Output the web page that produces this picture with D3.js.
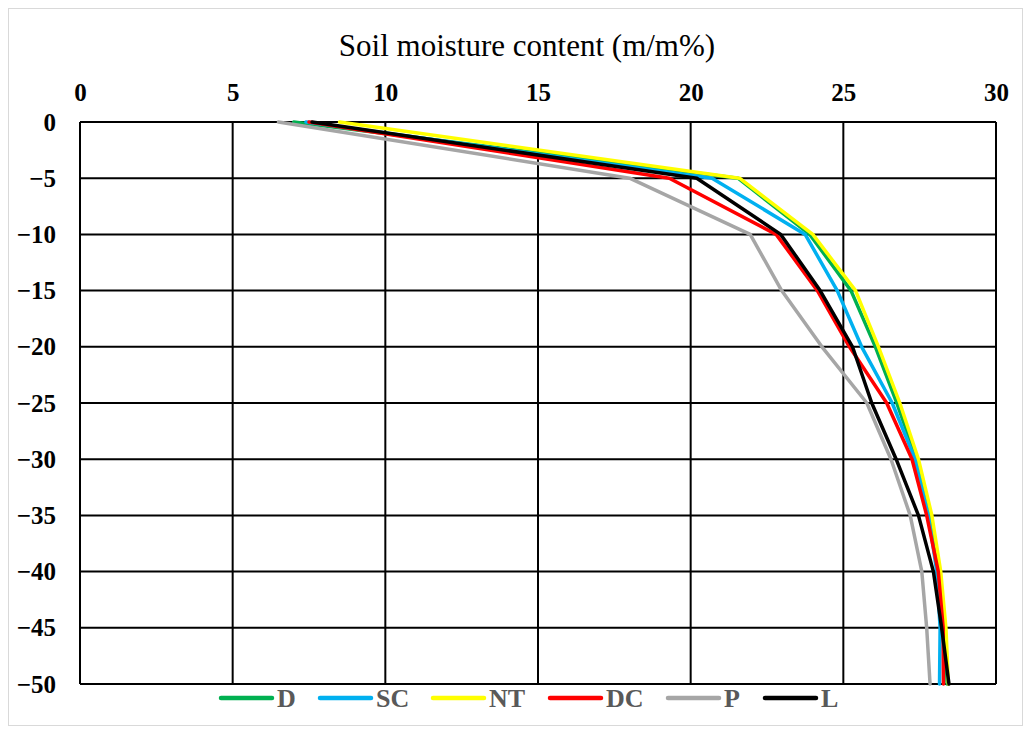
<!DOCTYPE html>
<html>
<head>
<meta charset="utf-8">
<script src="https://cdn.jsdelivr.net/npm/d3@7"></script>
<style>
  html, body { margin: 0; padding: 0; background: #fff; }
  svg { display: block; }
</style>
</head>
<body>
<svg id="chart" width="1031" height="734"></svg>
<script>
// ---- Data ----
const depths = [0, -5, -10, -15, -20, -25, -30, -35, -40, -45, -50];
const seriesNames = ["D", "SC", "NT", "DC", "P", "L"];
const seriesColors = ["#00B050", "#00B0F0", "#FFFF00", "#FF0000", "#A6A6A6", "#000000"];
const valuesD  = [7.0, 21.55, 23.9, 25.25, 26.05, 26.75, 27.4, 27.85, 28.15, 28.33, 28.4];
const valuesSC = [7.4, 20.7, 23.75, 24.8, 25.6, 26.6, 27.35, 27.79, 28.06, 28.17, 28.15];
const valuesNT = [8.5, 21.6, 24.0, 25.4, 26.15, 26.85, 27.46, 27.9, 28.19, 28.36, 28.44];
const valuesDC = [7.5, 19.3, 22.8, 24.15, 25.2, 26.42, 27.25, 27.73, 28.11, 28.27, 28.28];
const valuesP  = [6.5, 18.0, 21.95, 22.98, 24.3, 25.77, 26.56, 27.19, 27.57, 27.73, 27.84];
const valuesL  = [7.6, 20.2, 22.95, 24.24, 25.3, 25.93, 26.73, 27.46, 27.95, 28.22, 28.46];
const xTicks = [0, 5, 10, 15, 20, 25, 30];
const yTicks = [0, -5, -10, -15, -20, -25, -30, -35, -40, -45, -50];
const titleText = "Soil moisture content (m/m%)";

const allValues = [valuesD, valuesSC, valuesNT, valuesDC, valuesP, valuesL];

// ---- Layout ----
const svg = d3.select("#chart");
const W = 1031, H = 734;
const plot = { left: 80, right: 996, top: 122, bottom: 684 };
const serif = "'Liberation Serif', 'Times New Roman', serif";

svg.append("rect")
  .attr("x", 8.5).attr("y", 8.5)
  .attr("width", W - 17).attr("height", H - 17)
  .attr("fill", "#fff").attr("stroke", "#d9d9d9").attr("stroke-width", 1);

const x = d3.scaleLinear().domain([0, 30]).range([plot.left, plot.right]);
const y = d3.scaleLinear().domain([0, -50]).range([plot.top, plot.bottom]);

// Gridlines
const g = svg.append("g");
g.selectAll("line.vg").data(xTicks).join("line")
  .attr("class", "vg")
  .attr("x1", d => x(d)).attr("x2", d => x(d))
  .attr("y1", plot.top).attr("y2", plot.bottom)
  .attr("stroke", "#000").attr("stroke-width", 2);
g.selectAll("line.hg").data(yTicks).join("line")
  .attr("class", "hg")
  .attr("x1", plot.left).attr("x2", plot.right)
  .attr("y1", d => y(d)).attr("y2", d => y(d))
  .attr("stroke", "#000").attr("stroke-width", 2);

// Axes (labels only, using d3 axes)
const xAxis = svg.append("g")
  .attr("transform", `translate(0,${plot.top})`)
  .call(d3.axisTop(x).tickValues(xTicks).tickSize(0).tickPadding(21).tickFormat(d3.format("d")));
xAxis.select(".domain").remove();
xAxis.selectAll("text")
  .attr("font-family", serif)
  .attr("font-size", 25).attr("font-weight", "bold").attr("fill", "#000");

const yAxis = svg.append("g")
  .attr("transform", `translate(${plot.left},0)`)
  .call(d3.axisLeft(y).tickValues(yTicks).tickSize(0).tickPadding(24).tickFormat(d3.format("d")));
yAxis.select(".domain").remove();
yAxis.selectAll("text")
  .attr("font-family", serif)
  .attr("font-size", 25).attr("font-weight", "bold").attr("fill", "#000");

// Title
svg.append("text")
  .attr("x", 527).attr("y", 56)
  .attr("text-anchor", "middle")
  .attr("font-family", serif)
  .attr("font-size", 31).attr("fill", "#000")
  .text(titleText);

// Lines
const line = d3.line()
  .x(d => x(d[0]))
  .y(d => y(d[1]));

seriesNames.forEach((name, i) => {
  const pts = allValues[i].map((v, j) => [v, depths[j]]);
  svg.append("path")
    .datum(pts)
    .attr("d", line)
    .attr("fill", "none")
    .attr("stroke", seriesColors[i])
    .attr("stroke-width", 3.5)
    .attr("stroke-linejoin", "round")
    .attr("stroke-linecap", "round");
});

// Legend
const legendX = [219, 318, 431, 548, 666, 763];
const legend = svg.append("g");
seriesNames.forEach((name, i) => {
  const lx = legendX[i], ly = 698;
  legend.append("line")
    .attr("x1", lx + 2).attr("x2", lx + 53)
    .attr("y1", ly).attr("y2", ly)
    .attr("stroke", seriesColors[i]).attr("stroke-width", 4.5)
    .attr("stroke-linecap", "round");
  legend.append("text")
    .attr("x", lx + 58).attr("y", ly + 9)
    .attr("font-family", serif)
    .attr("font-size", 26).attr("font-weight", "bold").attr("fill", "#595959")
    .text(name);
});
</script>
</body>
</html>
